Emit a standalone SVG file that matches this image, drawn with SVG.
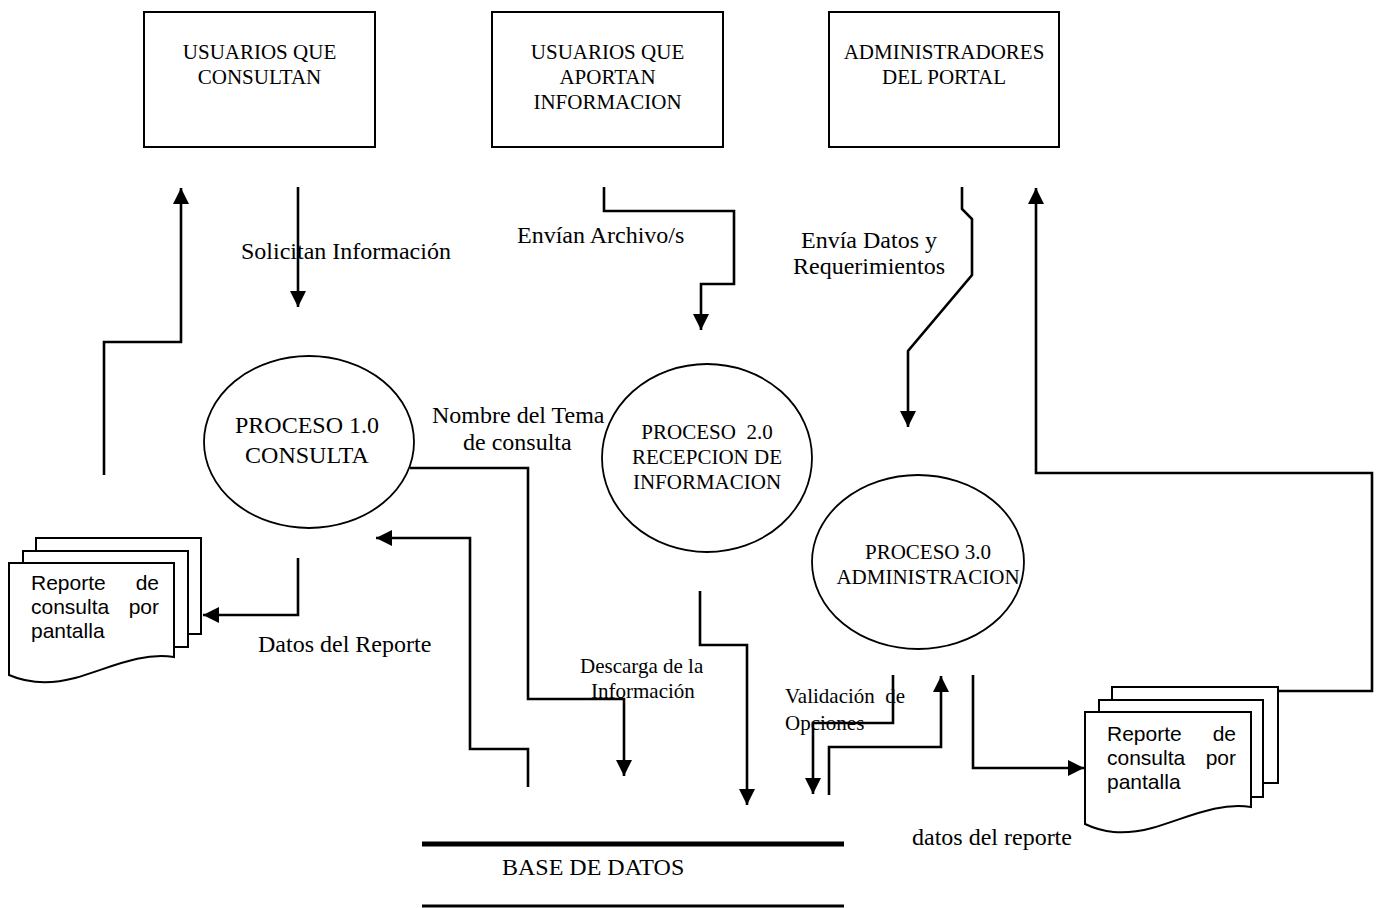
<svg xmlns="http://www.w3.org/2000/svg" width="1379" height="908" viewBox="0 0 1379 908">
<style>
  .box { fill: #fff; stroke: #000; stroke-width: 2; }
  .proc { fill: #fff; stroke: #000; stroke-width: 1.8; }
  .page { fill: #fff; stroke: #000; stroke-width: 2; }
  .flow { fill: none; stroke: #000; stroke-width: 2.6; }
  .t21 { font-family: "Liberation Serif", "Times New Roman", serif; font-size: 21px; fill: #000; }
  .t24 { font-family: "Liberation Serif", "Times New Roman", serif; font-size: 24px; fill: #000; }
  .sans { font-family: "Liberation Sans", Arial, sans-serif; font-size: 21px; fill: #000; }
  .c { text-anchor: middle; }
  .e { text-anchor: end; }
</style>
<defs>
  <marker id="arr" markerUnits="userSpaceOnUse" markerWidth="16" markerHeight="16" refX="16" refY="8" orient="auto" viewBox="0 0 16 16">
    <path d="M0,0 L16,8 L0,16 Z" fill="#000"/>
  </marker>
</defs>
<rect width="1379" height="908" fill="#fff"/>

<g id="ext-usuarios-consultan">
  <rect class="box" x="144" y="12" width="231" height="135"/>
  <text class="t21 c" x="259.5" y="59">USUARIOS QUE</text>
  <text class="t21 c" x="259.5" y="84">CONSULTAN</text>
</g>
<g id="ext-usuarios-aportan">
  <rect class="box" x="492" y="12" width="231" height="135"/>
  <text class="t21 c" x="607.5" y="59">USUARIOS QUE</text>
  <text class="t21 c" x="607.5" y="84">APORTAN</text>
  <text class="t21 c" x="607.5" y="109">INFORMACION</text>
</g>
<g id="ext-administradores">
  <rect class="box" x="829" y="12" width="230" height="135"/>
  <text class="t21 c" x="944" y="59">ADMINISTRADORES</text>
  <text class="t21 c" x="944" y="84">DEL PORTAL</text>
</g>

<g id="proc-1">
  <ellipse class="proc" cx="309" cy="442" rx="105" ry="86"/>
  <text class="t24 c" x="307" y="433">PROCESO 1.0</text>
  <text class="t24 c" x="307" y="463">CONSULTA</text>
</g>
<g id="proc-2">
  <ellipse class="proc" cx="707" cy="458" rx="105" ry="94"/>
  <text class="t21 c" x="707" y="439" xml:space="preserve">PROCESO  2.0</text>
  <text class="t21 c" x="707" y="464">RECEPCION DE</text>
  <text class="t21 c" x="707" y="489">INFORMACION</text>
</g>
<g id="proc-3">
  <ellipse class="proc" cx="918" cy="562" rx="106" ry="87"/>
  <text class="t21 c" x="928" y="559">PROCESO 3.0</text>
  <text class="t21 c" x="928" y="584">ADMINISTRACION</text>
</g>

<g id="doc-left">
  <rect class="page" x="36" y="538" width="165" height="96"/>
  <rect class="page" x="23" y="551" width="165" height="96"/>
  <path class="page" d="M9,563 H174 V657 C140,652 110,668 75,678 C45,686 25,682 9,675 Z"/>
  <text class="sans" x="31" y="590">Reporte</text>
  <text class="sans e" x="159" y="590">de</text>
  <text class="sans" x="31" y="614">consulta</text>
  <text class="sans e" x="159" y="614">por</text>
  <text class="sans" x="31" y="638">pantalla</text>
</g>
<g id="doc-right">
  <rect class="page" x="1112" y="687" width="166" height="96"/>
  <rect class="page" x="1099" y="700" width="164" height="97"/>
  <path class="page" d="M1085,712 H1251 V807 C1217,802 1187,818 1152,828 C1122,836 1102,832 1085,824 Z"/>
  <text class="sans" x="1107" y="741">Reporte</text>
  <text class="sans e" x="1236" y="741">de</text>
  <text class="sans" x="1107" y="765">consulta</text>
  <text class="sans e" x="1236" y="765">por</text>
  <text class="sans" x="1107" y="789">pantalla</text>
</g>

<g id="datastore">
  <line x1="422" y1="844" x2="844" y2="844" stroke="#000" stroke-width="5"/>
  <line x1="422" y1="906" x2="844" y2="906" stroke="#000" stroke-width="3"/>
  <text class="t24" x="502" y="875">BASE DE DATOS</text>
</g>

<g id="connectors">
  <path class="flow" d="M104,475 V342 H181 V188" marker-end="url(#arr)"/>
  <path class="flow" d="M298,187 V307" marker-end="url(#arr)"/>
  <path class="flow" d="M604,187 V211 H734 V284 H701 V330" marker-end="url(#arr)"/>
  <path class="flow" d="M962,187 V209 L972,219 V275 L908,351 V427" marker-end="url(#arr)"/>
  <path class="flow" d="M1278,691 H1372 V473 H1036 V188" marker-end="url(#arr)"/>
  <path class="flow" d="M298,558 V615 H203" marker-end="url(#arr)"/>
  <path class="flow" d="M410,468 H528 V699 H624 V776" marker-end="url(#arr)"/>
  <path class="flow" d="M528,787 V749 H470 V538 H376" marker-end="url(#arr)"/>
  <path class="flow" d="M700,591 V645 H747 V805" marker-end="url(#arr)"/>
  <path class="flow" d="M893,675 V723 H813 V794" marker-end="url(#arr)"/>
  <path class="flow" d="M829,795 V747 H941 V676" marker-end="url(#arr)"/>
  <path class="flow" d="M973,675 V768 H1084" marker-end="url(#arr)"/>
</g>

<g id="labels">
  <text class="t24" x="241" y="259">Solicitan Información</text>
  <text class="t24" x="517" y="243">Envían Archivo/s</text>
  <text class="t24" x="801" y="248">Envía Datos y</text>
  <text class="t24" x="793" y="274">Requerimientos</text>
  <text class="t24" x="432" y="423">Nombre del Tema</text>
  <text class="t24" x="463" y="450">de consulta</text>
  <text class="t24" x="258" y="652">Datos del Reporte</text>
  <text class="t21" x="580" y="673">Descarga de la</text>
  <text class="t21" x="591" y="698">Información</text>
  <text class="t21" x="785" y="703" xml:space="preserve">Validación  de</text>
  <text class="t21" x="785" y="730">Opciones</text>
  <text class="t24" x="912" y="845">datos del reporte</text>
</g>
</svg>
